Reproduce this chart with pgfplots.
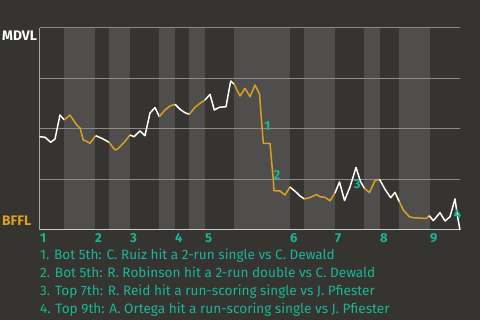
\documentclass[border=0pt]{standalone}
\usepackage{pgfplots}
\pgfplotsset{compat=1.18}
\usepackage{fontspec}
\setmainfont{Fira Sans}
\definecolor{bg}{HTML}{363431}
\definecolor{band}{HTML}{4F4E4C}
\definecolor{gridc}{HTML}{8C8B89}
\definecolor{org}{HTML}{DBA020}
\definecolor{tl}{HTML}{18B696}
\begin{document}
\begin{tikzpicture}[x=1pt,y=1pt]
\useasboundingbox (0,0) rectangle (480,320);
\fill[bg] (0,0) rectangle (480,320);
\begin{axis}[at={(39.5pt,90pt)}, anchor=south west, scale only axis,
  width=420.5pt, height=202pt, xmin=39.5, xmax=460, ymin=28, ymax=230,
  y dir=reverse, hide axis, clip=false]
% half-inning bands (bottom halves lighter)
\foreach \a/\b in {64/95,109/130,159/175,189/205,234/290,304/335,364/380,399/430}{
  \edef\tmp{\noexpand\fill[band] (axis cs:\a,28) rectangle (axis cs:\b,230);}\tmp}
% grid
\draw[gridc, line width=1pt] (axis cs:39.5,28) -- (axis cs:460,28);
\draw[gridc, line width=1pt] (axis cs:39.5,78.5) -- (axis cs:460,78.5);
\draw[gridc, line width=1pt] (axis cs:39.5,129) -- (axis cs:460,129);
\draw[gridc, line width=1pt] (axis cs:39.5,179.5) -- (axis cs:460,179.5);
\draw[white!80!black, line width=1pt] (axis cs:39.5,230) -- (axis cs:460,230);
\draw[white!65!black, line width=1pt] (axis cs:39.5,28) -- (axis cs:39.5,230);
\pgfplotsset{every axis plot/.append style={line width=1.5pt, line join=round, mark=none}}
% Top 1
\addplot[white] coordinates {(39.5,136.7) (45,137.3) (50.7,142.3) (55,139) (60,115) (64.3,120)};
% Bot 1
\addplot[org] coordinates {(64.3,120) (70,115) (76.7,125) (80,128) (83.3,140) (86,141) (90,143.3) (95.7,135.7)};
% Top 2
\addplot[white] coordinates {(95.7,135.7) (101.7,138.3) (105,140) (109,142.3)};
% Bot 2
\addplot[org] coordinates {(109,142.3) (115,150) (118,148.7) (124.7,141.7) (130,135)};
% Top 3
\addplot[white] coordinates {(130,135) (134,136.7) (140,131) (145,135.7) (150,113) (155,107.5) (159.3,116.7)};
% Bot 3
\addplot[org] coordinates {(159.3,116.7) (165,110) (170,106) (175,104.3)};
% Top 4
\addplot[white] coordinates {(175,104.3) (180,109.3) (185,112.7) (189.3,114.3)};
% Bot 4
\addplot[org] coordinates {(189.3,114.3) (195,107.3) (200,103.3) (205,100)};
% Top 5
\addplot[white] coordinates {(205,100) (210,94.3) (214.3,110) (219.3,107.3) (226,106.7) (230.7,81) (234,84)};
% Bot 5
\addplot[org] coordinates {(234,84) (240,96) (245,88.3) (250,96.7) (255,85) (259.5,94) (260.7,110) (263.3,143.3) (270,143.3) (273.3,180) (274,190.7) (280,191) (285,195) (290,187)};
% Top 6
\addplot[white] coordinates {(290,187) (296.7,192.7) (300,196) (304.5,199)};
% Bot 6
\addplot[org] coordinates {(304.5,199) (310,197.5) (316.7,194.5) (320,196.7) (325,197.3) (330,200.8) (335,193)};
% Top 7
\addplot[white] coordinates {(335,193) (339.5,182) (344.5,200.5) (350,187) (356,167.5) (360.5,181.5) (364.5,188.5)};
% Bot 7
\addplot[org] coordinates {(364.5,188.5) (369.5,192.5) (375,180.5) (379.5,179.3)};
% Top 8
\addplot[white] coordinates {(379.5,179.3) (385,189.3) (390.7,197.7) (395,192.3) (399.3,201.7)};
% Bot 8
\addplot[org] coordinates {(399.3,201.7) (403.3,210) (409.3,216.7) (413.3,217.7) (423.3,218.3) (426.7,218.3) (429.3,215.7)};
% Top 9
\addplot[white] coordinates {(429.3,215.7) (433.3,220.7) (440,212.7) (445,221) (450,216.7) (455,199) (457.3,215) (460,230)};
% annotations
\node[tl, font=\fontsize{13}{15}\selectfont\bfseries] at (axis cs:267.3,126) {1};
\node[tl, font=\fontsize{13}{15}\selectfont\bfseries] at (axis cs:277,175) {2};
\node[tl, font=\fontsize{13}{15}\selectfont\bfseries] at (axis cs:357.3,184.3) {3};
\node[tl, font=\fontsize{13}{15}\selectfont\bfseries] at (axis cs:457.5,214.5) {4};
\end{axis}
% team labels
\node[white, anchor=base west, inner sep=0pt, font=\fontsize{13.8}{15}\selectfont\bfseries] at (2,279.3) {MDVL};
\node[org, anchor=base west, inner sep=0pt, font=\fontsize{13.8}{15}\selectfont\bfseries] at (2,94) {BFFL};
% inning labels
\foreach \x/\n in {40/1,95/2,130/3,175/4,205/5,290/6,335/7,380/8,430/9}{
  \node[tl, anchor=base west, inner sep=0pt, font=\fontsize{13}{15}\selectfont\bfseries] at (\x,77) {\n};}
% footnotes
\begin{scope}[every node/.style={tl, anchor=base west, inner sep=0pt, font=\fontsize{13.6}{15}\selectfont}]
\node at (40,60.7) {1. Bot 5th: C. Ruiz hit a 2-run single vs C. Dewald};
\node at (40,42.7) {2. Bot 5th: R. Robinson hit a 2-run double vs C. Dewald};
\node at (40,24.3) {3. Top 7th: R. Reid hit a run-scoring single vs J. Pfiester};
\node at (40,6.7) {4. Top 9th: A. Ortega hit a run-scoring single vs J. Pfiester};
\end{scope}
\end{tikzpicture}
\end{document}
